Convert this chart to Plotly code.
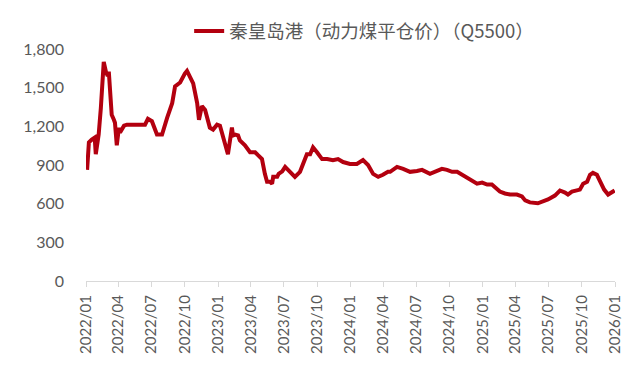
import plotly.graph_objects as go

series_name = "秦皇岛港（动力煤平仓价）（Q5500）"

dates = [
    "2022-01-04", "2022-01-06", "2022-01-09", "2022-01-17", "2022-01-25", "2022-01-28",
    "2022-02-05", "2022-02-11", "2022-02-19", "2022-02-25", "2022-03-02", "2022-03-05",
    "2022-03-13", "2022-03-19", "2022-03-22", "2022-03-27", "2022-04-02", "2022-04-05",
    "2022-04-16", "2022-04-24", "2022-06-13", "2022-06-21", "2022-07-02", "2022-07-16",
    "2022-07-30", "2022-08-13", "2022-08-27", "2022-09-04", "2022-09-18", "2022-10-01",
    "2022-10-07", "2022-10-24", "2022-11-04", "2022-11-09", "2022-11-17", "2022-11-26",
    "2022-12-09", "2022-12-18", "2022-12-29", "2023-01-06", "2023-01-14", "2023-01-25",
    "2023-01-28", "2023-02-08", "2023-02-11", "2023-02-17", "2023-02-25", "2023-03-02",
    "2023-03-16", "2023-03-30", "2023-04-13", "2023-04-21", "2023-05-02", "2023-05-10",
    "2023-05-16", "2023-05-24", "2023-05-30", "2023-06-02", "2023-06-13", "2023-06-17",
    "2023-06-27", "2023-07-05", "2023-07-18", "2023-08-01", "2023-08-15", "2023-08-23",
    "2023-09-03", "2023-09-12", "2023-09-20", "2023-10-01", "2023-10-15", "2023-10-29",
    "2023-11-14", "2023-11-28", "2023-12-12", "2023-12-31", "2024-01-19", "2024-02-05",
    "2024-02-19", "2024-03-04", "2024-03-18", "2024-03-31", "2024-04-14", "2024-04-20",
    "2024-05-09", "2024-05-26", "2024-06-14", "2024-07-03", "2024-07-17", "2024-08-08",
    "2024-08-27", "2024-09-10", "2024-09-24", "2024-10-08", "2024-10-22", "2024-11-05",
    "2024-11-21", "2024-12-05", "2024-12-16", "2024-12-30", "2025-01-13", "2025-01-26",
    "2025-02-09", "2025-02-17", "2025-03-03", "2025-03-17", "2025-04-05", "2025-04-19",
    "2025-04-28", "2025-05-11", "2025-06-02", "2025-06-16", "2025-06-30", "2025-07-19",
    "2025-08-02", "2025-08-16", "2025-08-24", "2025-09-04", "2025-09-18", "2025-09-26",
    "2025-10-05", "2025-10-16", "2025-10-24", "2025-11-01", "2025-11-12", "2025-11-21",
    "2025-12-02", "2025-12-13", "2025-12-24", "2025-12-31",
]

prices = [
    862, 960, 1075, 1098, 1113, 984,
    1136, 1342, 1700, 1624, 1590, 1624,
    1289, 1251, 1228, 1053, 1190, 1152,
    1205, 1213, 1213, 1258, 1240, 1136,
    1136, 1266, 1380, 1510, 1540, 1609,
    1630, 1533, 1380, 1251, 1357, 1327,
    1190, 1175, 1213, 1205, 1129, 1022,
    984, 1190, 1129, 1136, 1129, 1091,
    1053, 999, 999, 976, 946, 831,
    770, 770, 755, 808, 808, 831,
    850, 885, 847, 808, 847, 900,
    984, 984, 1037, 999, 946, 946,
    938, 946, 923, 908, 908, 938,
    900, 831, 808, 824, 847, 847,
    885, 870, 847, 854, 862, 831,
    854, 870, 862, 847, 847, 824,
    801, 770, 755, 763, 748, 748,
    717, 694, 679, 671, 671, 656,
    625, 610, 603, 618, 633, 663,
    702, 686, 671, 694, 702, 709,
    755, 770, 824, 839, 824, 770,
    709, 671, 686, 702,
]

x_tick_vals = [
    "2022-01-01", "2022-04-01", "2022-07-01", "2022-10-01",
    "2023-01-01", "2023-04-01", "2023-07-01", "2023-10-01",
    "2024-01-01", "2024-04-01", "2024-07-01", "2024-10-01",
    "2025-01-01", "2025-04-01", "2025-07-01", "2025-10-01",
    "2026-01-01",
]
x_tick_text = [
    "2022/01", "2022/04", "2022/07", "2022/10",
    "2023/01", "2023/04", "2023/07", "2023/10",
    "2024/01", "2024/04", "2024/07", "2024/10",
    "2025/01", "2025/04", "2025/07", "2025/10",
    "2026/01",
]
y_tick_vals = [0, 300, 600, 900, 1200, 1500, 1800]

LINE_COLOR = "#B3000F"
TEXT_COLOR = "#595959"

fig = go.Figure()
fig.add_trace(go.Scatter(
    x=dates, y=prices, mode="lines", name=series_name,
    line=dict(color=LINE_COLOR, width=4),
))

fig.update_layout(
    width=641, height=373,
    margin=dict(l=86, r=26, t=45, b=92),
    paper_bgcolor="white", plot_bgcolor="white",
    showlegend=True,
    legend=dict(
        orientation="h", x=0.195, y=1.076, xanchor="left", yanchor="middle",
        font=dict(family="Noto Sans CJK SC", size=18.5, color=TEXT_COLOR),
        bgcolor="rgba(0,0,0,0)",
    ),
    font=dict(family="Lato", size=15, color=TEXT_COLOR),
)

fig.update_xaxes(
    type="date", range=["2022-01-01", "2026-01-01"],
    tickmode="array", tickvals=x_tick_vals, ticktext=x_tick_text,
    tickangle=-90, showgrid=False, zeroline=False,
    showline=True, linecolor="#D9D9D9", linewidth=1,
    ticks="outside", ticklen=5, tickcolor="#D9D9D9",
    ticklabelstandoff=2,
    tickfont=dict(family="Lato", size=15, color=TEXT_COLOR),
)
fig.update_yaxes(
    range=[0, 1800], tickmode="array", tickvals=y_tick_vals,
    tickformat=",d", showgrid=False, zeroline=False, showline=False,
    ticks="", ticklabelstandoff=21,
    tickfont=dict(family="Lato", size=16, color=TEXT_COLOR),
)

fig.write_html(
    "out.html",
    config={"displayModeBar": False},
    post_script="document.body.style.margin='0px';",
)
